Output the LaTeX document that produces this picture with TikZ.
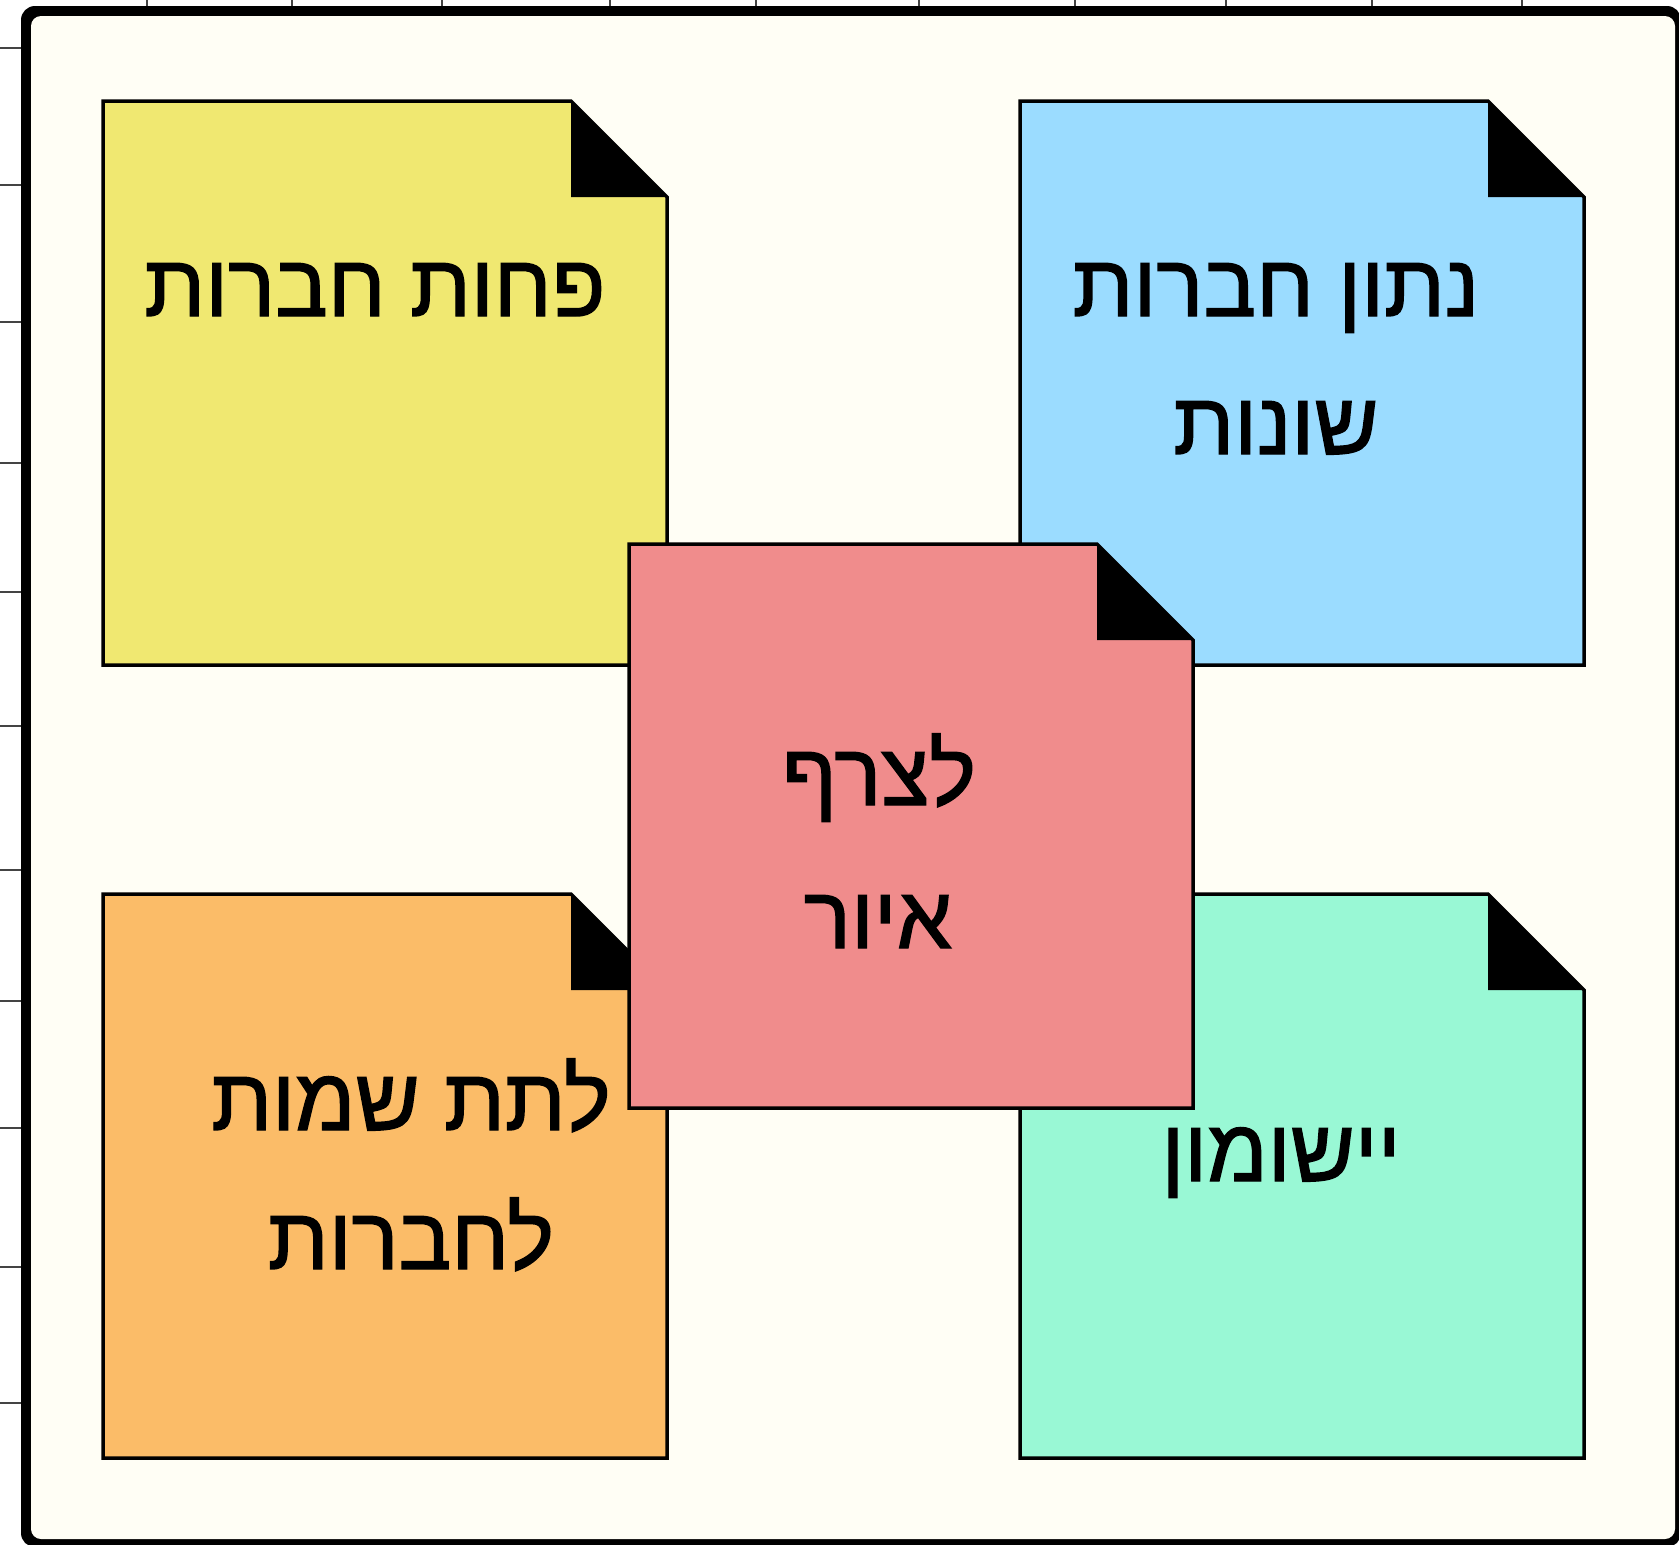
\documentclass[tikz,border=0pt]{standalone}
\usepackage{fontspec}
\TeXXeTstate=1
\newfontfamily\hebfont[Script=Hebrew,FakeBold=1.6]{Liberation Sans}
\definecolor{cream}{HTML}{FFFEF5}
\definecolor{noteyellow}{HTML}{F0E871}
\definecolor{noteblue}{HTML}{9BDCFF}
\definecolor{noteorange}{HTML}{FBBC68}
\definecolor{notegreen}{HTML}{99F8D5}
\definecolor{notered}{HTML}{F08C8C}
\definecolor{tickgray}{HTML}{444444}
\newcommand{\stickynote}[4]{% x0, y0, colour, name
  \fill[#3] (#1,#2) -- ++(468,0) -- ++(96,96) -- ++(0,468) -- ++(-564,0) -- cycle;
  \fill[black] (#1+468,#2) -- ++(96,96) -- ++(-96,0) -- cycle;
  \draw[noteline] (#1,#2) -- ++(468,0) -- ++(96,96) -- ++(0,468) -- ++(-564,0) -- cycle;
  \coordinate (#4) at (#1,#2);
}
\begin{document}
\begin{tikzpicture}[x=1pt,y=-1pt,
  tick/.style={draw=tickgray, line width=2pt},
  noteline/.style={draw=black, line width=3.5pt, line join=miter},
  lbl/.style={anchor=base, inner sep=0pt, font=\hebfont\fontsize{88}{138}\selectfont}]
\useasboundingbox (0,0) rectangle (1679,1545);
\fill[white] (0,0) rectangle (1679,1545);
\foreach \x in {147,292,442,610,756,919,1075,1226,1372,1522}
  \draw[tick] (\x,0) -- (\x,9);
\foreach \y in {48,185,322,463,592,726,870,1001,1128,1267,1403}
  \draw[tick] (0,\y) -- (22,\y);
\fill[black, rounded corners=14pt] (21,6) rectangle (1681,1547);
\fill[cream, rounded corners=10pt] (31,16) rectangle (1675,1539);
\stickynote{103}{101}{noteyellow}{ny}
\stickynote{1020}{101}{noteblue}{nb}
\stickynote{103}{894}{noteorange}{no}
\stickynote{1020}{894}{notegreen}{ng}
\stickynote{629}{544}{notered}{nr}
\node[lbl] (ty1) at (375,316) {\beginR פחות חברות\endR};
\node[lbl] (tb1) at (1276,316) {\beginR נתון חברות\endR};
\node[lbl] (tb2) at (1276,454) {\beginR שונות\endR};
\node[lbl] (tr1) at (879,805) {\beginR לצרף\endR};
\node[lbl] (tr2) at (878,948) {\beginR איור\endR};
\node[lbl] (to1) at (411,1130) {\beginR לתת שמות\endR};
\node[lbl] (to2) at (411,1269) {\beginR לחברות\endR};
\node[lbl] (tg1) at (1281,1181) {\beginR יישומון\endR};
\end{tikzpicture}
\end{document}
